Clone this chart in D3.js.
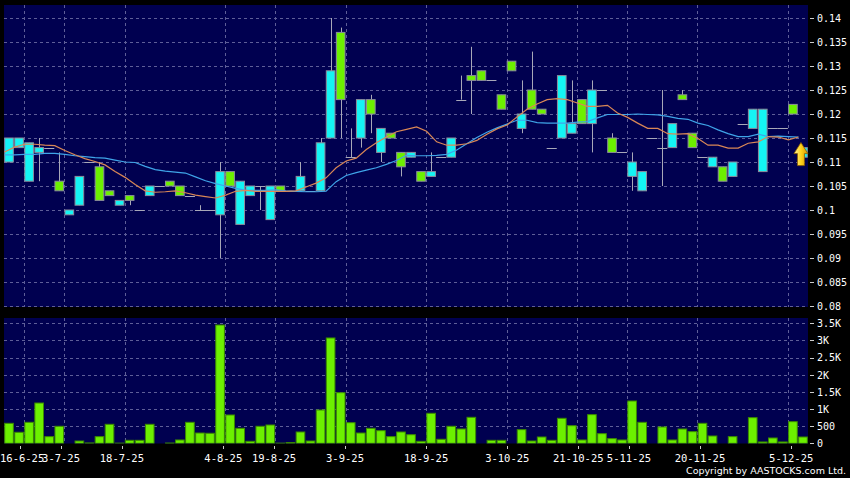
<!DOCTYPE html>
<html><head><meta charset="utf-8">
<script src="https://cdn.jsdelivr.net/npm/d3@7"></script>
<style>html,body{margin:0;padding:0;background:#000;overflow:hidden}</style>
</head><body>
<svg id="chart" width="850" height="478"></svg>
<script>
// ---- data (80 trading slots) ----
const open  = [.110,.113,.106,.112,.113,.106,.099,.101,.110,.109,.104,.101,.103,.100,.103,.105,.106,.105,.103,.100,
               .100,.099,.108,.097,.103,.105,.098,.105,.104,.104,.104,.104,.115,.137,.111,.115,.123,.112,.116,.112,
               .111,.108,.107,.111,.111,.123,.128,.129,.127,.124,.131,.117,.125,.121,.113,.115,.116,.123,.118,.125,
               .115,.112,.107,.104,.115,.113,.113,.124,.116,.111,.109,.109,.107,.118,.117,.108,.117,.117,.122,.111];
const high  = [.115,.115,.114,.115,.113,.112,.100,.107,.110,.110,.104,.102,.103,.100,.105,.105,.106,.105,.103,.101,
               .100,.110,.108,.106,.105,.105,.105,.105,.104,.110,.104,.115,.140,.138,.117,.123,.124,.117,.116,.112,
               .112,.108,.112,.111,.115,.128,.134,.129,.127,.124,.131,.127,.133,.121,.113,.128,.127,.123,.127,.125,
               .116,.112,.112,.108,.115,.125,.118,.125,.116,.111,.111,.109,.110,.118,.121,.121,.117,.117,.122,.113];
const low   = [.110,.113,.106,.106,.113,.104,.099,.101,.110,.102,.103,.101,.101,.100,.103,.105,.105,.103,.103,.100,
               .100,.090,.105,.097,.103,.100,.098,.104,.104,.104,.104,.104,.115,.115,.111,.113,.116,.110,.115,.107,
               .111,.106,.107,.111,.111,.123,.120,.127,.127,.121,.129,.116,.121,.120,.113,.115,.116,.118,.112,.125,
               .112,.112,.104,.104,.115,.105,.113,.123,.113,.111,.109,.106,.107,.118,.117,.108,.117,.117,.120,.111];
const close = [.115,.115,.114,.113,.113,.104,.100,.107,.110,.102,.103,.102,.102,.100,.105,.105,.105,.103,.103,.100,
               .100,.108,.105,.106,.105,.105,.105,.104,.104,.107,.104,.114,.129,.123,.111,.123,.120,.117,.115,.109,
               .112,.106,.108,.111,.115,.123,.127,.127,.127,.121,.129,.120,.121,.120,.113,.128,.118,.118,.125,.125,
               .112,.112,.110,.108,.115,.113,.118,.123,.113,.111,.111,.106,.110,.118,.121,.121,.117,.117,.120,.113];
const volume = [583,321,612,1175,194,496,0,67,10,194,554,5,87,87,554,0,8,97,612,300,
                292,3450,826,437,58,496,534,5,20,330,67,971,3072,1476,601,300,437,368,194,330,
                251,58,875,117,496,417,758,0,87,87,0,398,67,184,87,729,514,97,836,281,
                136,97,1234,612,0,476,97,417,340,583,213,0,194,0,748,39,155,39,631,184];
const maShort = [.1121,.1131,.1137,.1137,.1135,.1134,.1124,.1115,.1107,.1101,.1094,.1080,.1068,.1053,.1040,.1037,.1038,.1040,.1036,.1031,
                 .1028,.1025,.1031,.1039,.1041,.1039,.1039,.1039,.1039,.1040,.1048,.1056,.1067,.1088,.1102,.1108,.1126,.1140,.1152,.1163,
                 .1168,.1173,.1164,.1142,.1135,.1135,.1138,.1145,.1158,.1169,.1177,.1194,.1210,.1221,.1230,.1232,.1230,.1223,.1216,.1216,
                 .1218,.1202,.1193,.1181,.1170,.1170,.1159,.1158,.1159,.1149,.1135,.1135,.1129,.1129,.1139,.1142,.1153,.1152,.1146,.1152];
const maLong  = [.1115,.1115,.1116,.1116,.1118,.1118,.1116,.1113,.1111,.1109,.1108,.1104,.1100,.1099,.1091,.1084,.1081,.1079,.1077,.1069,
                 .1061,.1055,.1050,.1045,.1041,.1041,.1041,.1042,.1040,.1039,.1038,.1038,.1039,.1059,.1072,.1078,.1083,.1088,.1095,.1103,
                 .1114,.1113,.1113,.1114,.1116,.1125,.1138,.1151,.1162,.1171,.1179,.1187,.1187,.1182,.1181,.1181,.1181,.1183,.1184,.1192,
                 .1199,.1199,.1199,.1200,.1199,.1198,.1195,.1191,.1189,.1181,.1176,.1167,.1159,.1153,.1153,.1158,.1153,.1154,.1153,.1152];
const priceTicks = [0.08,0.085,0.09,0.095,0.1,0.105,0.11,0.115,0.12,0.125,0.13,0.135,0.14];
const priceTickLabels = ["0.08","0.085","0.09","0.095","0.1","0.105","0.11","0.115","0.12","0.125","0.13","0.135","0.14"];
const volTicks = [0,500,1000,1500,2000,2500,3000,3500];
const volTickLabels = ["0","500","1K","1.5K","2K","2.5K","3K","3.5K"];
const dateTickSlots = [1,5,11,21,26,33,41,49,56,61,68,77];
const dateTickLabels = ["16-6-25","3-7-25","18-7-25","4-8-25","19-8-25","3-9-25","18-9-25","3-10-25","21-10-25","5-11-25","20-11-25","5-12-25"];

// ---- layout ----
const svg = d3.select("#chart");
const L = 4, R = 808;
const pTop = 5, pBot = 307, vTop = 318, vBot = 443.5;
const N = open.length;
const x = d3.scaleLinear().domain([-0.5, N - 0.5]).range([L, R]);
const xLab = d3.scaleLinear().domain([-0.5, N - 0.5]).range([0.2, 811.5]);
const step = x(1) - x(0);
const y = d3.scaleLinear().domain([0.08, 0.14]).range([306, 18]);
const yv = d3.scaleLinear().domain([0, 3500]).range([443.3, 323.3]);

svg.append("rect").attr("width", 850).attr("height", 478).attr("fill", "#000");
const navy = "#000050";
svg.append("rect").attr("x", L).attr("y", pTop).attr("width", R - L).attr("height", pBot - pTop).attr("fill", navy);
svg.append("rect").attr("x", L).attr("y", vTop).attr("width", R - L).attr("height", vBot - vTop).attr("fill", navy);

const defs = svg.append("defs");
defs.append("clipPath").attr("id", "pclip").append("rect").attr("x", L).attr("y", pTop).attr("width", R - L).attr("height", pBot - pTop);
defs.append("clipPath").attr("id", "vclip").append("rect").attr("x", L).attr("y", vTop).attr("width", R - L).attr("height", vBot - vTop);
const grad = defs.append("linearGradient").attr("id", "gold").attr("x1", 0).attr("x2", 1).attr("y1", 0).attr("y2", 0);
grad.append("stop").attr("offset", "0%").attr("stop-color", "#fff6a0");
grad.append("stop").attr("offset", "50%").attr("stop-color", "#ffd21a");
grad.append("stop").attr("offset", "100%").attr("stop-color", "#d99400");

const gridColor = "#5e5e98";
svg.append("g").selectAll("line").data(priceTicks).join("line")
  .attr("x1", L).attr("x2", R).attr("y1", d => Math.round(y(d)) + 0.5).attr("y2", d => Math.round(y(d)) + 0.5)
  .attr("stroke", gridColor).attr("stroke-dasharray", "3,3");
svg.append("g").selectAll("line").data(volTicks.filter(v => v > 0)).join("line")
  .attr("x1", L).attr("x2", R).attr("y1", d => Math.round(yv(d)) + 0.5).attr("y2", d => Math.round(yv(d)) + 0.5)
  .attr("stroke", gridColor).attr("stroke-dasharray", "3,3");
const vg = svg.append("g");
dateTickSlots.forEach(s => {
  const gx = Math.round(x(s + 0.5)) + 0.5;
  vg.append("line").attr("x1", gx).attr("x2", gx).attr("y1", pTop).attr("y2", pBot).attr("stroke", gridColor).attr("stroke-dasharray", "3,3");
  vg.append("line").attr("x1", gx).attr("x2", gx).attr("y1", vTop).attr("y2", vBot).attr("stroke", gridColor).attr("stroke-dasharray", "3,3");
});

// ---- candles ----
const cg = svg.append("g").attr("clip-path", "url(#pclip)");
const idx = d3.range(N);
const cw = step * 0.86;
const wickColor = "#a8a8b8";
cg.selectAll("line.wick").data(idx.filter(i => high[i] !== low[i])).join("line").attr("class", "wick")
  .attr("x1", i => Math.round(x(i)) + 0.5).attr("x2", i => Math.round(x(i)) + 0.5)
  .attr("y1", i => y(high[i])).attr("y2", i => y(low[i]))
  .attr("stroke", wickColor).attr("stroke-width", 1);
cg.selectAll("line.doji").data(idx.filter(i => open[i] === close[i])).join("line").attr("class", "doji")
  .attr("x1", i => x(i) - step / 2).attr("x2", i => x(i) + step / 2)
  .attr("y1", i => Math.round(y(close[i])) + 0.5).attr("y2", i => Math.round(y(close[i])) + 0.5)
  .attr("stroke", wickColor).attr("stroke-width", 1);
cg.selectAll("rect.body").data(idx.filter(i => open[i] !== close[i])).join("rect").attr("class", "body")
  .attr("x", i => x(i) - cw / 2).attr("width", cw)
  .attr("y", i => y(Math.max(open[i], close[i])))
  .attr("height", i => Math.abs(y(open[i]) - y(close[i])))
  .attr("fill", i => close[i] > open[i] ? "#14f4f4" : "#6cf000")
  .attr("stroke", "#8c8c9c").attr("stroke-width", 1);

// ---- moving averages ----
const maLine = arr => d3.line().x((d, i) => x(i - 0.45)).y(d => y(d))(arr);
cg.append("path").attr("d", maLine(maLong)).attr("fill", "none").attr("stroke", "#3fa4e8").attr("stroke-width", 1.2);
cg.append("path").attr("d", maLine(maShort)).attr("fill", "none").attr("stroke", "#d98756").attr("stroke-width", 1.2);

// ---- arrow marker ----
const ax = x(N - 1.5) + 3, ay = y(close[N - 1]) - 5;
svg.append("path")
  .attr("d", `M${ax},${ay} L${ax + 7},${ay + 11} L${ax + 3.5},${ay + 11} L${ax + 3.5},${ay + 23} L${ax - 3.5},${ay + 23} L${ax - 3.5},${ay + 11} L${ax - 7},${ay + 11} Z`)
  .attr("fill", "url(#gold)").attr("stroke", "#8a5a00").attr("stroke-width", 0.8);

// ---- volume ----
const vgq = svg.append("g").attr("clip-path", "url(#vclip)");
vgq.selectAll("rect").data(idx).join("rect")
  .attr("x", i => x(i) - cw / 2).attr("width", cw)
  .attr("y", i => yv(volume[i])).attr("height", i => yv(0) - yv(volume[i]))
  .attr("fill", "#6cf000").attr("stroke", "#3c8a00").attr("stroke-width", 1);

// ---- axes text ----
const txt = "#ffffff";
const ya = svg.append("g").attr("font-family", "DejaVu Sans Mono, monospace").attr("font-size", 10).attr("fill", txt);
priceTicks.forEach((t, k) => {
  const yy = y(t);
  ya.append("line").attr("x1", 810).attr("x2", 814).attr("y1", Math.round(yy) + 0.5).attr("y2", Math.round(yy) + 0.5).attr("stroke", "#cccccc");
  ya.append("text").attr("x", 817).attr("y", yy + 3.8).text(priceTickLabels[k]);
});
volTicks.forEach((t, k) => {
  const yy = yv(t);
  ya.append("line").attr("x1", 810).attr("x2", 814).attr("y1", Math.round(yy) + 0.5).attr("y2", Math.round(yy) + 0.5).attr("stroke", "#cccccc");
  ya.append("text").attr("x", 817).attr("y", yy + 3.8).text(volTickLabels[k]);
});
const xa = svg.append("g").attr("font-family", "DejaVu Sans Mono, monospace").attr("font-size", 10.5).attr("fill", txt);
dateTickSlots.forEach((s, k) => {
  const tx = xLab(s + 0.5);
  xa.append("line").attr("x1", Math.round(tx) + 0.5).attr("x2", Math.round(tx) + 0.5).attr("y1", 446).attr("y2", 449).attr("stroke", "#cccccc");
  const t = xa.append("text").attr("x", tx).attr("y", 461.5).attr("text-anchor", "middle").text(dateTickLabels[k]);
  const w = t.node().getComputedTextLength();
  if (tx - w / 2 < 0) t.attr("x", w / 2);
});
svg.append("text").attr("x", 846).attr("y", 474).attr("text-anchor", "end")
  .attr("font-family", "DejaVu Sans, sans-serif").attr("font-size", 9.5)
  .attr("fill", txt).text("Copyright by AASTOCKS.com Ltd.");
</script>
</body></html>
